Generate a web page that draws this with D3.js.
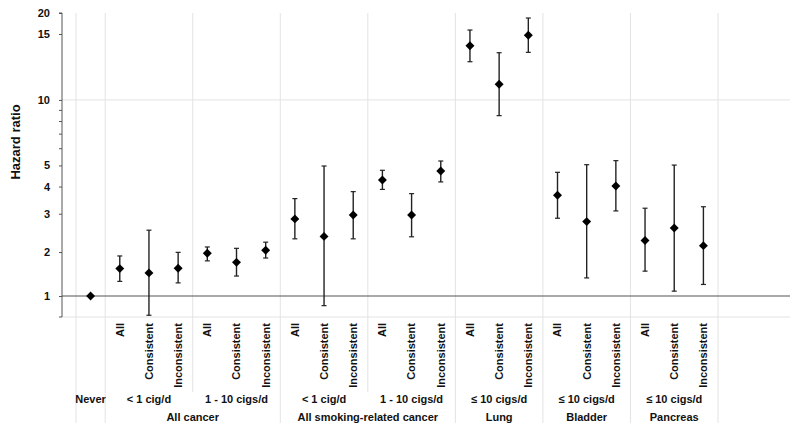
<!DOCTYPE html>
<html><head><meta charset="utf-8">
<script src="https://cdn.jsdelivr.net/npm/d3@7"></script>
<style>
body{margin:0;background:#fff;}
text{font-family:"Liberation Sans",Arial,sans-serif;font-weight:bold;fill:#111;}
</style></head>
<body><svg id="c" width="800" height="433"></svg>
<script>
// ---- data ----
const columnLabels = ["", "All","Consistent","Inconsistent","All","Consistent","Inconsistent",
  "All","Consistent","Inconsistent","All","Consistent","Inconsistent",
  "All","Consistent","Inconsistent","All","Consistent","Inconsistent","All","Consistent","Inconsistent"];
const hr    = [1.00, 1.54,1.44,1.55, 1.96,1.70,2.04, 2.84,2.36,2.96, 4.29,2.96,4.71, 13.96,11.01,14.88, 3.65,2.76,4.02, 2.26,2.58,2.14];
const lower = [null, 1.26,0.74,1.23, 1.74,1.37,1.82, 2.30,0.86,2.30, 3.88,2.35,4.20, 12.65,8.47,13.40, 2.86,1.33,3.09, 1.48,1.08,1.20];
const upper = [null, 1.88,2.52,1.99, 2.11,2.08,2.22, 3.52,4.97,3.79, 4.75,3.71,5.24, 15.84,13.37,18.67, 4.65,5.04,5.26, 3.18,5.02,3.23];
const doseLabels = ["Never","< 1 cig/d","1 - 10 cigs/d","< 1 cig/d","1 - 10 cigs/d","≤ 10 cigs/d","≤ 10 cigs/d","≤ 10 cigs/d"];
const doseSpans  = [1,3,3,3,3,3,3,3];
const siteLabels = ["","All cancer","All smoking-related cancer","Lung","Bladder","Pancreas"];
const siteSpans  = [1,6,6,3,3,3];
const tickValues = [1,2,3,4,5,6,7,8,9,10,15,20];
const tickLabels = [1,2,3,4,5,10,15,20];

// ---- layout ----
const svg = d3.select("#c");
const axisX = 62, plotRight = 790, plotTop = 13, plotBottom = 317;
const colLeft = 76, colRight = 718;
const H = plotBottom - plotTop;
const x = d3.scaleBand().domain(d3.range(columnLabels.length)).range([colLeft, colRight]);
// axis drawn with uneven label spacing as in the original
const y = d3.scaleLog()
  .domain([0.72, 1, 2, 10, 15, 20])
  .range([plotBottom, plotBottom - H*0.069, plotBottom - H*0.2137, plotBottom - H*0.714, plotBottom - H*0.9309, plotTop]);

const grid = "#e3e3e3";
// vertical grid lines: site boundaries (long) and dose boundaries (short)
let idx = 0; const siteB = [0];
siteSpans.forEach(s => { idx += s; siteB.push(idx); });
idx = 0; const doseB = [0];
doseSpans.forEach(s => { idx += s; doseB.push(idx); });
const xb = i => colLeft + i * x.bandwidth();
svg.selectAll(".vl").data(siteB).enter().append("line")
  .attr("x1", xb).attr("x2", xb).attr("y1", plotTop).attr("y2", 423)
  .attr("stroke", grid).attr("stroke-width", 1);
svg.selectAll(".vs").data(doseB.filter(b => !siteB.includes(b))).enter().append("line")
  .attr("x1", xb).attr("x2", xb).attr("y1", plotTop).attr("y2", 392)
  .attr("stroke", grid).attr("stroke-width", 1);

// horizontal lines
svg.append("line").attr("x1", axisX).attr("x2", plotRight).attr("y1", y(10)).attr("y2", y(10)).attr("stroke", grid);
svg.append("line").attr("x1", axisX).attr("x2", plotRight).attr("y1", plotBottom).attr("y2", plotBottom).attr("stroke", grid);
svg.append("line").attr("x1", axisX).attr("x2", plotRight).attr("y1", y(1)).attr("y2", y(1)).attr("stroke", "#555").attr("stroke-width", 1.2);

// y axis
const yAxis = d3.axisLeft(y).tickValues(tickValues).tickSize(3)
  .tickFormat(d => tickLabels.includes(d) ? d : "");
const ga = svg.append("g").attr("transform", `translate(${axisX},0)`).call(yAxis);
ga.select(".domain").attr("d", `M-3,${plotTop}H0V${plotBottom}H-3`).attr("stroke", "#555");
ga.selectAll(".tick line").attr("stroke", "#555");
ga.selectAll(".tick text").attr("x", -12).style("font-size", "11px").style("font-family", "'Liberation Sans',Arial,sans-serif").style("font-weight", "bold").attr("fill", "#111");

svg.append("text").attr("transform", `translate(20,142) rotate(-90)`)
  .attr("text-anchor", "middle").style("font-size", "13px").text("Hazard ratio");

// error bars
const cx = i => x(i) + x.bandwidth()/2;
const eb = svg.append("g");
d3.range(hr.length).filter(i => lower[i] != null).forEach(i => {
  eb.append("line").attr("x1", cx(i)).attr("x2", cx(i)).attr("y1", y(lower[i])).attr("y2", y(upper[i]))
    .attr("stroke", "#222").attr("stroke-width", 1.4);
  [lower[i], upper[i]].forEach(v => eb.append("line").attr("x1", cx(i)-2.5).attr("x2", cx(i)+2.5)
    .attr("y1", y(v)).attr("y2", y(v)).attr("stroke", "#222").attr("stroke-width", 1.2));
});
// points
svg.selectAll(".pt").data(hr).enter().append("path")
  .attr("d", d3.symbol(d3.symbolSquare, 40))
  .attr("transform", (d, i) => `translate(${cx(i)},${y(d)}) rotate(45)`)
  .attr("fill", "#000");

// category labels
svg.selectAll(".cl").data(columnLabels).enter().append("text")
  .attr("transform", (d, i) => `translate(${cx(i)},323) rotate(-90)`)
  .attr("text-anchor", "end").attr("dy", "0.35em").style("font-size", "11px").text(d => d);

svg.selectAll(".dl").data(doseLabels).enter().append("text")
  .attr("x", (d, i) => (xb(doseB[i]) + xb(doseB[i+1]))/2).attr("y", 403)
  .attr("text-anchor", "middle").style("font-size", "11px").text(d => d);
svg.selectAll(".sl").data(siteLabels).enter().append("text")
  .attr("x", (d, i) => (xb(siteB[i]) + xb(siteB[i+1]))/2).attr("y", 421)
  .attr("text-anchor", "middle").style("font-size", "11px").text(d => d);
</script></body></html>
